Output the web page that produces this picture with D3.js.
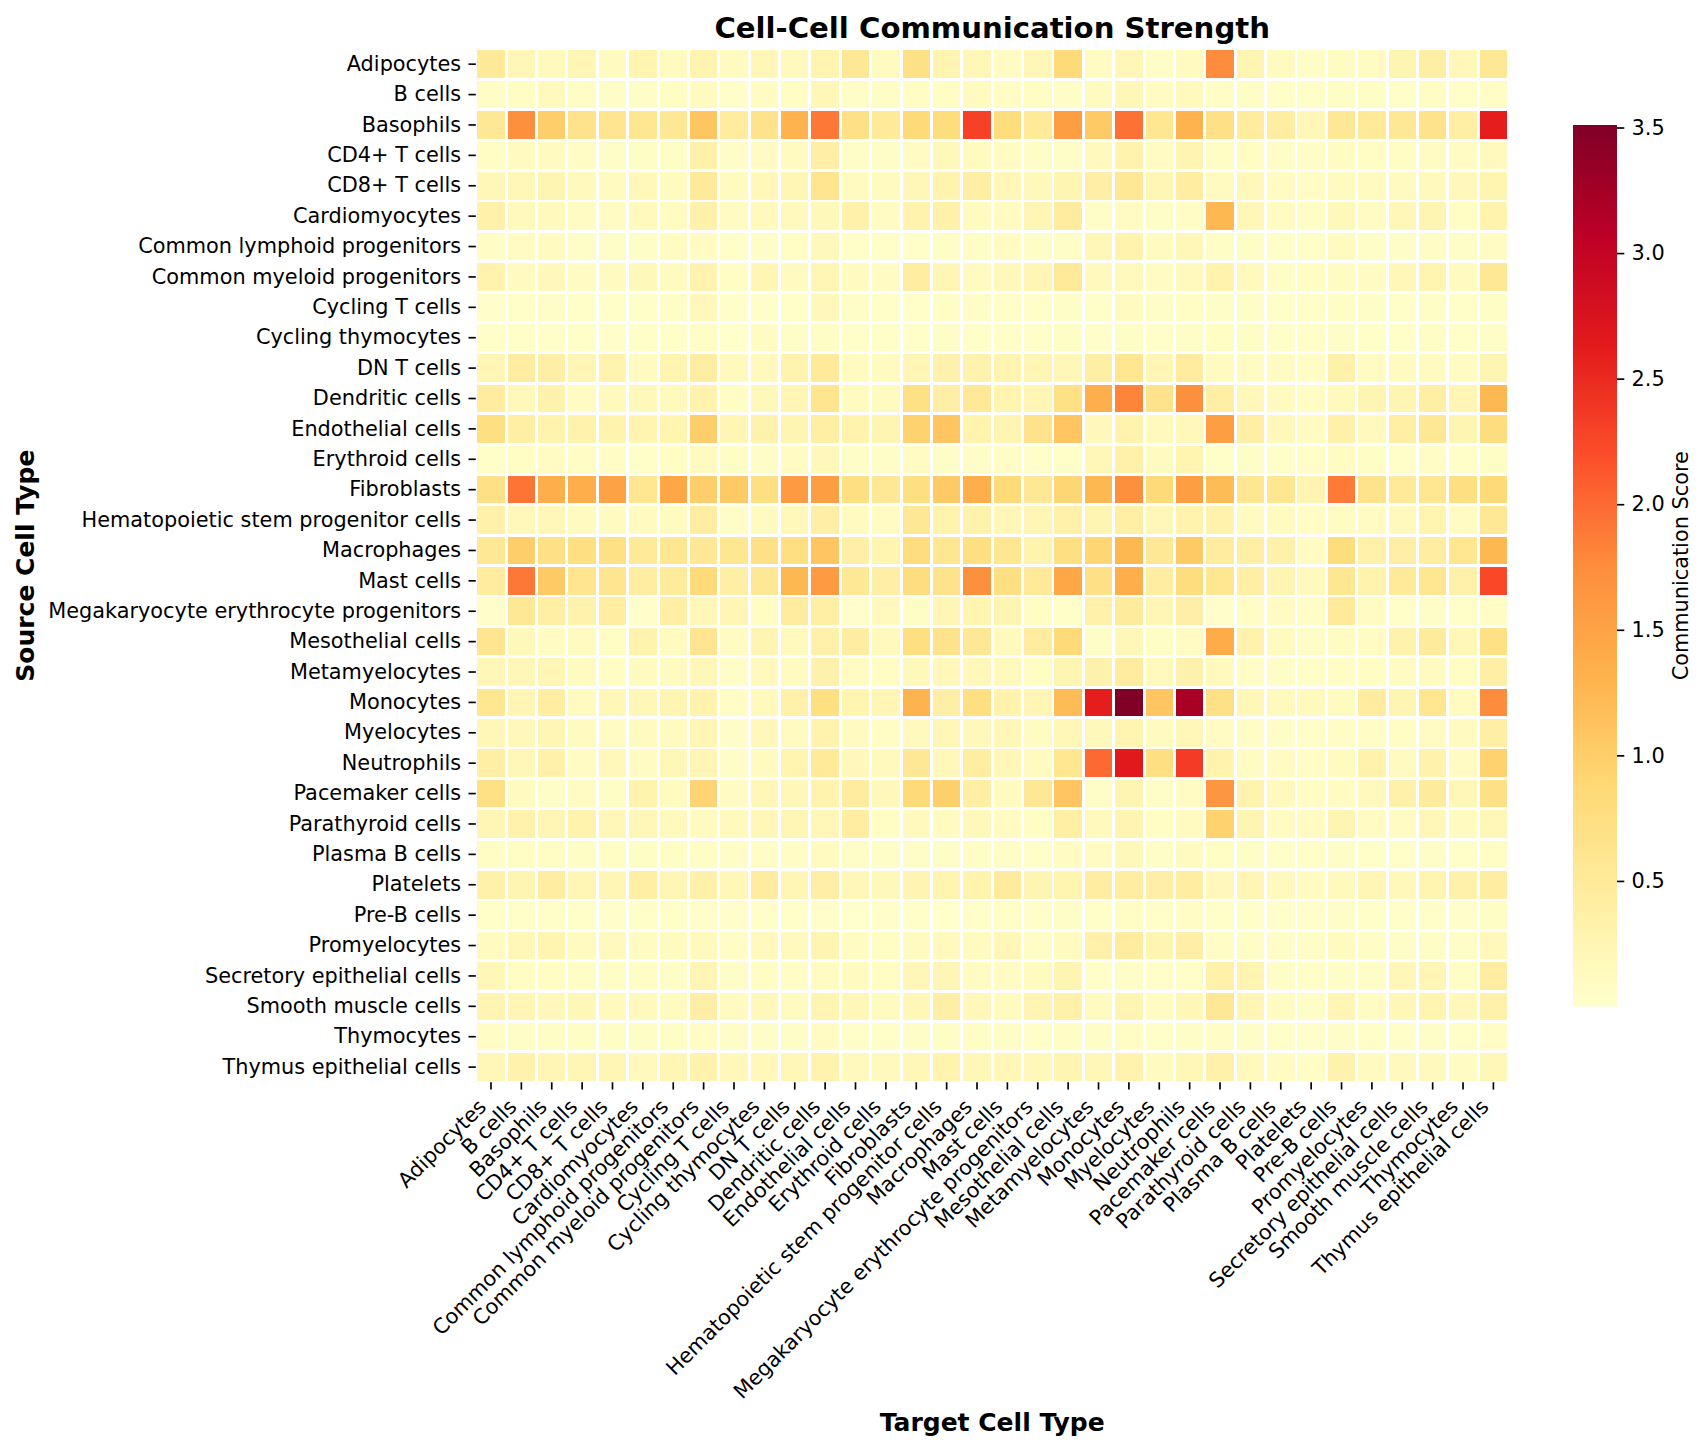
<!DOCTYPE html>
<html><head><meta charset="utf-8">
<style>html,body{margin:0;padding:0;background:#fff}svg{display:block}text{font-family:"DejaVu Sans";fill:#000}</style>
<script src="https://cdn.jsdelivr.net/npm/d3@7"></script></head>
<body><svg id="c" width="1707" height="1450"></svg>
<script>
const cellTypes=["Adipocytes","B cells","Basophils","CD4+ T cells","CD8+ T cells","Cardiomyocytes","Common lymphoid progenitors","Common myeloid progenitors","Cycling T cells","Cycling thymocytes","DN T cells","Dendritic cells","Endothelial cells","Erythroid cells","Fibroblasts","Hematopoietic stem progenitor cells","Macrophages","Mast cells","Megakaryocyte erythrocyte progenitors","Mesothelial cells","Metamyelocytes","Monocytes","Myelocytes","Neutrophils","Pacemaker cells","Parathyroid cells","Plasma B cells","Platelets","Pre-B cells","Promyelocytes","Secretory epithelial cells","Smooth muscle cells","Thymocytes","Thymus epithelial cells"];
const colorbarTicks=[0.5,1,1.5,2,2.5,3,3.5];
const ylOrRd=["#ffffcc","#ffeda0","#fed976","#feb24c","#fd8d3c","#fc4e2a","#e31a1c","#bd0026","#800026"];
const scoreMin=0, scoreMax=3.51;
const scores=[
[.5,.2,.15,.22,.12,.28,.12,.28,.13,.2,.15,.28,.55,.12,.7,.28,.2,.1,.2,.85,.1,.2,.05,.12,1.75,.25,.12,.05,.1,.1,.25,.4,.18,.55],
[.07,.08,.15,.07,.05,.05,.08,.12,.03,.09,.08,.2,.05,.06,.08,.08,.12,.07,.08,.05,.12,.2,.1,.15,.07,.06,.04,.04,.06,.06,.04,.08,.04,.07],
[.55,1.72,1,.65,.62,.6,.55,1.1,.45,.65,1.3,1.9,.7,.5,.85,.8,2.3,.8,.5,1.55,1.05,1.95,.6,1.3,.7,.45,.42,.2,.55,.5,.55,.65,.4,2.6],
[.08,.12,.12,.07,.05,.06,.06,.35,.05,.1,.12,.38,.05,.05,.1,.17,.12,.1,.05,.05,.15,.3,.1,.25,.08,.08,.05,.05,.1,.08,.08,.1,.1,.15],
[.2,.2,.25,.15,.13,.18,.13,.5,.12,.18,.22,.62,.12,.12,.2,.3,.4,.2,.17,.25,.38,.55,.22,.42,.12,.18,.1,.07,.13,.12,.12,.14,.18,.28],
[.35,.15,.15,.1,.1,.15,.1,.35,.1,.15,.15,.17,.35,.1,.3,.35,.12,.1,.22,.45,.05,.1,.05,.07,1.25,.2,.1,.06,.17,.1,.2,.25,.08,.3],
[.07,.1,.12,.05,.05,.05,.1,.1,.03,.05,.08,.17,.03,.03,.04,.06,.06,.1,.05,.05,.2,.3,.12,.2,.06,.06,.04,.04,.12,.05,.05,.07,.05,.1],
[.3,.12,.18,.1,.12,.17,.12,.3,.08,.22,.12,.22,.12,.1,.42,.22,.12,.18,.22,.5,.15,.15,.1,.15,.3,.15,.06,.08,.1,.1,.2,.28,.12,.55],
[.02,.04,.05,.04,.03,.04,.05,.18,.03,.03,.04,.18,.05,.03,.04,.07,.05,.04,.04,.05,.04,.12,.05,.08,.05,.05,.04,.04,.06,.05,.04,.06,.04,.06],
[.03,.03,.03,.03,.02,.03,.03,.06,.01,.1,.05,.06,.04,.04,.03,.05,.03,.03,.03,.06,.02,.06,.04,.05,.08,.06,.04,.03,.05,.04,.03,.06,.03,.05],
[.22,.42,.38,.22,.3,.12,.28,.42,.15,.15,.3,.5,.12,.12,.22,.32,.32,.25,.22,.2,.4,.6,.22,.45,.12,.1,.1,.08,.35,.1,.12,.12,.1,.25],
[.45,.17,.32,.1,.15,.17,.15,.3,.08,.17,.22,.62,.12,.12,.72,.38,.52,.28,.22,.72,1.35,1.82,.65,1.72,.4,.18,.12,.08,.15,.25,.25,.4,.22,1.25],
[.75,.4,.3,.32,.3,.28,.28,1,.22,.32,.25,.4,.3,.25,.95,1.1,.3,.25,.65,1.1,.18,.3,.15,.18,1.55,.4,.18,.1,.35,.15,.4,.55,.25,.78],
[.03,.08,.1,.07,.07,.04,.08,.12,.06,.05,.09,.18,.05,.05,.09,.05,.05,.05,.02,.03,.2,.35,.12,.28,.04,.05,.04,.04,.1,.06,.03,.07,.03,.06],
[.7,1.92,1.35,1.35,1.5,.6,1.45,1,1.05,.75,1.6,1.55,.75,.55,.75,1.05,1.35,.85,.55,.9,1.25,1.72,.85,1.55,1.2,.6,.6,.25,1.88,.65,.5,.6,.75,.85],
[.35,.18,.2,.12,.12,.12,.13,.42,.05,.12,.18,.38,.12,.1,.55,.3,.32,.2,.22,.35,.25,.4,.2,.3,.32,.12,.12,.07,.1,.1,.15,.28,.1,.55],
[.55,1,.7,.75,.72,.5,.6,.55,.6,.7,.75,1.1,.38,.28,.78,.6,.75,.6,.3,.75,.9,1.25,.55,1.05,.45,.4,.35,.1,.8,.35,.38,.42,.6,1.25],
[.45,1.9,1.05,.62,.62,.42,.48,.85,.38,.55,1.25,1.6,.55,.38,.78,.65,1.72,.75,.5,1.45,.7,1.35,.42,.78,.6,.4,.25,.15,.6,.3,.5,.6,.35,2.25],
[.02,.55,.4,.32,.42,.02,.4,.2,.22,.08,.45,.4,.02,.15,.06,.22,.28,.25,.08,.03,.35,.48,.22,.38,.02,.07,.1,.05,.5,.1,.04,.05,.03,.07],
[.62,.17,.1,.12,.08,.3,.12,.62,.1,.25,.15,.35,.42,.15,.75,.65,.55,.15,.45,.85,.05,.2,.06,.1,1.4,.32,.12,.05,.1,.1,.32,.48,.2,.72],
[.2,.2,.22,.13,.08,.12,.12,.2,.05,.15,.13,.32,.1,.08,.17,.18,.18,.15,.08,.25,.32,.45,.15,.32,.15,.07,.05,.04,.07,.08,.1,.12,.08,.38],
[.6,.22,.42,.12,.2,.2,.25,.3,.07,.15,.35,.75,.28,.22,1.3,.38,.75,.3,.22,1.2,2.6,3.51,1.1,3.2,.7,.2,.15,.15,.12,.45,.25,.6,.12,1.75],
[.2,.18,.22,.12,.1,.12,.12,.22,.05,.18,.13,.3,.12,.08,.15,.2,.17,.2,.1,.2,.17,.28,.12,.2,.1,.07,.05,.04,.07,.07,.08,.1,.12,.38],
[.4,.2,.35,.1,.18,.1,.2,.22,.05,.12,.28,.5,.18,.15,.55,.18,.42,.2,.12,.6,2,2.65,.75,2.35,.3,.1,.1,.07,.12,.32,.12,.32,.1,.95],
[.72,.12,.05,.1,.06,.3,.13,.92,.1,.2,.2,.3,.45,.18,.85,.98,.4,.13,.55,1.1,.05,.25,.05,.1,1.65,.3,.15,.08,.1,.15,.35,.48,.2,.7],
[.22,.32,.22,.3,.2,.2,.15,.12,.15,.2,.22,.2,.42,.08,.15,.12,.17,.1,.08,.4,.15,.25,.08,.12,.95,.25,.1,.1,.25,.1,.1,.2,.12,.2],
[.08,.08,.08,.06,.08,.06,.06,.06,.05,.07,.07,.12,.05,.05,.05,.05,.06,.05,.04,.1,.1,.17,.05,.12,.08,.06,.04,.03,.05,.04,.03,.05,.03,.08],
[.35,.25,.42,.22,.22,.4,.22,.35,.2,.45,.22,.38,.2,.17,.25,.28,.3,.48,.25,.28,.42,.42,.38,.42,.18,.22,.15,.1,.15,.22,.18,.28,.35,.42],
[.03,.03,.04,.03,.02,.04,.04,.02,.02,.03,.03,.02,.01,.02,.04,.01,.03,.03,.02,.05,.03,.08,.03,.07,.04,.03,.02,.02,.05,.03,.03,.04,.02,.06],
[.12,.2,.28,.12,.15,.1,.12,.15,.07,.15,.15,.25,.1,.08,.12,.15,.13,.2,.07,.13,.35,.45,.25,.38,.07,.07,.05,.05,.12,.07,.05,.06,.05,.18],
[.2,.08,.08,.06,.06,.07,.05,.22,.05,.08,.07,.1,.12,.08,.2,.22,.1,.1,.12,.25,.03,.05,.02,.03,.35,.28,.05,.03,.05,.05,.2,.22,.06,.42],
[.27,.22,.18,.2,.15,.14,.12,.38,.12,.17,.13,.25,.2,.12,.2,.38,.18,.12,.27,.35,.12,.25,.1,.2,.55,.22,.1,.05,.22,.1,.2,.28,.18,.35],
[.07,.05,.06,.06,.06,.06,.06,.07,.05,.05,.05,.09,.04,.04,.05,.06,.06,.05,.03,.07,.05,.08,.04,.05,.07,.05,.04,.02,.05,.04,.04,.05,.03,.07],
[.2,.32,.22,.22,.22,.15,.22,.32,.18,.18,.2,.3,.15,.15,.2,.3,.2,.2,.18,.25,.2,.3,.12,.2,.35,.15,.1,.06,.32,.12,.15,.15,.1,.2]
];
const L=475.8,R=1508.6,T=49,B=1082.3,PT=20.83,TICK=7.3,PAD=7.3,TW=1.67;
const svg=d3.select("#c");
const x=d3.scaleBand().domain(cellTypes).range([L,R]);
const y=d3.scaleBand().domain(cellTypes).range([T,B]);
const stops=ylOrRd.map((_,i)=>scoreMin+(scoreMax-scoreMin)*i/(ylOrRd.length-1));
const color=d3.scaleLinear().domain(stops).range(ylOrRd).clamp(true);
const inset=1.45;
svg.append("g").selectAll("g").data(scores).join("g").each(function(row,i){
  d3.select(this).selectAll("rect").data(row).join("rect")
   .attr("x",(d,j)=>x(cellTypes[j])+inset).attr("y",y(cellTypes[i])+inset)
   .attr("width",x.bandwidth()-2*inset).attr("height",y.bandwidth()-2*inset)
   .attr("fill",d=>color(d)).attr("shape-rendering","crispEdges");
});
function styleAxis(g){
  g.select(".domain").remove();
  g.selectAll(".tick line").attr("stroke","#000").attr("stroke-width",TW);
  g.selectAll("text").attr("font-size",PT).attr("font-family","DejaVu Sans").attr("fill","#000");
}
svg.append("g").attr("transform",`translate(${L},0)`)
 .call(d3.axisLeft(y).tickSize(TICK).tickPadding(PAD)).call(styleAxis);
const gx=svg.append("g").attr("transform",`translate(0,${B})`)
 .call(d3.axisBottom(x).tickSize(TICK)).call(styleAxis);
// matplotlib rotation=45, ha=right: rotated text bbox right edge sits at the tick
gx.selectAll(".tick text").attr("text-anchor","end").attr("dy",null).attr("y",null)
 .attr("transform",`translate(-3.5,${TICK+PAD+11.2}) rotate(-45)`);
svg.append("text").attr("x",(L+R)/2).attr("y",38).attr("text-anchor","middle")
 .attr("font-weight","bold").attr("font-size",29.17).text("Cell-Cell Communication Strength");
svg.append("text").attr("x",(L+R)/2).attr("y",1431).attr("text-anchor","middle")
 .attr("font-weight","bold").attr("font-size",25).text("Target Cell Type");
svg.append("text").attr("transform",`translate(34,${(T+B)/2}) rotate(-90)`).attr("text-anchor","middle")
 .attr("font-weight","bold").attr("font-size",25).text("Source Cell Type");
// colorbar
const cbL=1573,cbR=1617,cbT=125,cbB=1006.5;
const cy=d3.scaleLinear().domain([scoreMin,scoreMax]).range([cbB,cbT]);
const grad=svg.append("defs").append("linearGradient").attr("id","cb").attr("x1",0).attr("x2",0).attr("y1",1).attr("y2",0);
grad.selectAll("stop").data(stops).join("stop")
 .attr("offset",d=>(d-scoreMin)/(scoreMax-scoreMin)).attr("stop-color",d=>color(d));
svg.append("rect").attr("x",cbL).attr("y",cbT).attr("width",cbR-cbL).attr("height",cbB-cbT).attr("fill","url(#cb)");
svg.append("g").attr("transform",`translate(${cbR},0)`)
 .call(d3.axisRight(cy).tickValues(colorbarTicks).tickFormat(d3.format(".1f")).tickSize(TICK).tickPadding(PAD)).call(styleAxis);
svg.append("text").attr("transform",`translate(1688,${(cbT+cbB)/2}) rotate(-90)`).attr("text-anchor","middle")
 .attr("font-size",PT).text("Communication Score");
</script></body></html>
